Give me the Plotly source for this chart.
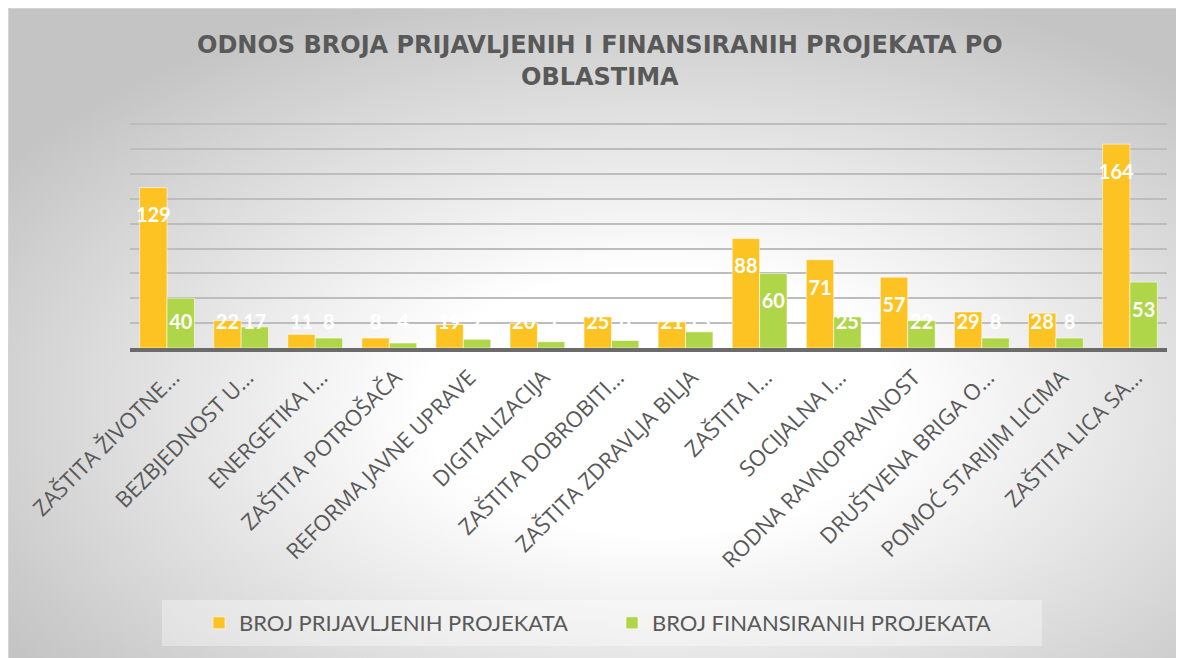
import base64
import plotly.graph_objects as go

categories = [
    "ZAŠTITA ŽIVOTNE…", "BEZBJEDNOST U…", "ENERGETIKA I…", "ZAŠTITA POTROŠAČA",
    "REFORMA JAVNE UPRAVE", "DIGITALIZACIJA", "ZAŠTITA DOBROBITI…",
    "ZAŠTITA ZDRAVLJA BILJA", "ZAŠTITA I…", "SOCIJALNA I…", "RODNA RAVNOPRAVNOST",
    "DRUŠTVENA BRIGA O…", "POMOĆ STARIJIM LICIMA", "ZAŠTITA LICA SA…",
]
prijavljeni = [129, 22, 11, 8, 19, 20, 25, 21, 88, 71, 57, 29, 28, 164]
finansirani = [40, 17, 8, 4, 7, 5, 6, 13, 60, 25, 22, 8, 8, 53]
series_names = ["BROJ PRIJAVLJENIH PROJEKATA", "BROJ FINANSIRANIH PROJEKATA"]
title_lines = ["ODNOS BROJA PRIJAVLJENIH I FINANSIRANIH PROJEKATA PO", "OBLASTIMA"]

W, H = 1184, 658
L, R, T, B = 122, 25, 115, 318
PW, PH = W - L - R, H - T - B
YMAX = 181
BARGAP = 0.26

def px_x(px):
    return (px - L) / PW

def px_y(py):
    return (H - B - py) / PH

ORANGE = "#FDC322"
GREEN = "#AFD548"
GREY = "#595959"

x = list(range(len(categories)))
fig = go.Figure()
for vals, name, col in [(prijavljeni, series_names[0], ORANGE), (finansirani, series_names[1], GREEN)]:
    fig.add_trace(go.Bar(
        x=x, y=vals, name=name,
        marker=dict(color=col, line=dict(color="rgba(255,255,255,0.55)", width=1)),
    ))

# data labels (Excel "inside end" style), positioned from the values
bw = (1 - BARGAP) / 2
for vals, sign in [(prijavljeni, -1), (finansirani, 1)]:
    fig.add_trace(go.Scatter(
        x=[i + sign * bw / 2 for i in x],
        y=[max(v - 24, 19) for v in vals],
        text=[str(v) for v in vals],
        mode="text", showlegend=False, hoverinfo="skip", cliponaxis=False,
        textfont=dict(family="Lato", size=20, color="white", weight="bold"),
    ))

svg = (
    '<svg xmlns="http://www.w3.org/2000/svg" width="1184" height="658" preserveAspectRatio="none">'
    '<defs><radialGradient id="g" cx="0.55" cy="0.6" r="0.66">'
    '<stop offset="0" stop-color="#ffffff"/>'
    '<stop offset="0.3" stop-color="#ffffff"/>'
    '<stop offset="1" stop-color="#c4c4c4"/>'
    '</radialGradient></defs>'
    '<rect x="0" y="0" width="1184" height="658" fill="url(#g)" stroke="#d4d4d4" stroke-width="2"/>'
    '</svg>'
)
src = "data:image/svg+xml;base64," + base64.b64encode(svg.encode()).decode()

annotations = []
for k, (line, cy) in enumerate(zip(title_lines, [37, 69])):
    annotations.append(dict(
        text=line, xref="paper", yref="paper", x=px_x(W / 2), y=px_y(cy),
        xanchor="center", yanchor="middle", showarrow=False,
        font=dict(family="DejaVu Sans", size=24, color=GREY, weight="bold"),
    ))

fig.update_layout(
    width=W, height=H,
    margin=dict(l=L, r=R, t=T, b=B, pad=0),
    paper_bgcolor="white", plot_bgcolor="rgba(0,0,0,0)",
    barmode="group", bargap=BARGAP, bargroupgap=0,
    annotations=annotations,
    images=[dict(source=src, xref="paper", yref="paper", x=px_x(0), y=px_y(0),
                 sizex=W / PW, sizey=H / PH, sizing="stretch",
                 xanchor="left", yanchor="top", layer="below")],
    shapes=[dict(type="rect", xref="paper", yref="paper", x0=px_x(154), x1=px_x(1034),
                 y0=px_y(638), y1=px_y(592), fillcolor="rgba(255,255,255,0.35)",
                 line=dict(width=0), layer="below")],
    legend=dict(orientation="h", x=px_x(191), xanchor="left", y=px_y(615), yanchor="middle",
                bgcolor="rgba(0,0,0,0)", font=dict(family="Lato", size=22, color=GREY),
                itemclick=False, entrywidth=368, entrywidthmode="pixels"),
    xaxis=dict(tickmode="array", tickvals=x, ticktext=categories, tickangle=-45,
               range=[-0.5, len(categories) - 0.5], showgrid=False, zeroline=False,
               showline=True, linecolor="#6b6b6b", linewidth=4, ticks="",
               ticklabelshift=6, ticklabelstandoff=4,
               tickfont=dict(family="Open Sans", size=22, color=GREY)),
    yaxis=dict(range=[0, YMAX], dtick=20, showgrid=True, gridcolor="#bdbdbd", gridwidth=1.5,
               showticklabels=False, zeroline=False, showline=False),
    showlegend=True,
)

fig.write_html("out.html")
